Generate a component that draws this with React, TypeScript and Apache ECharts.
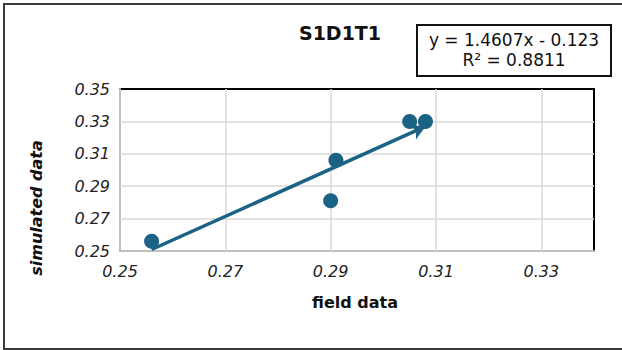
import React, { useEffect, useRef } from "react";
import * as echarts from "echarts";

// Measured points: field observations vs. simulated output
const fieldData = [0.256, 0.29, 0.291, 0.305, 0.308];
const simulatedData = [0.256, 0.281, 0.306, 0.33, 0.33];

// Linear fit reported on the chart
const slope = 1.4607;
const intercept = -0.123;
const rSquared = 0.8811;

// Axis extents and labelled tick values
const xMin = 0.25;
const xMax = 0.34;
const yMin = 0.25;
const yMax = 0.35;
const xGridTicks = [0.27, 0.29, 0.31, 0.33];
const yGridTicks = [0.27, 0.29, 0.31, 0.33];

const chartTitle = "S1D1T1";
const xName = "field data";
const yName = "simulated data";

const FONT = '"DejaVu Sans", sans-serif';
const MARK = "#1a6385";

export default function App() {
  const ref = useRef<HTMLDivElement>(null);

  useEffect(() => {
    if (!ref.current) return;
    const chart = echarts.init(ref.current, null, { renderer: "svg" });

    const points = fieldData.map((x, i) => [x, simulatedData[i]]);
    const fx0 = Math.min(...fieldData);
    const fx1 = Math.max(...fieldData);
    const fit = (x: number) => slope * x + intercept;

    const oddHundredth = (v: number, max: number) => {
      const k = Math.round(v * 100);
      return k % 2 === 1 && v <= max + 1e-9 ? v.toFixed(2) : "";
    };

    const gridLine = { color: "#d9d9d9", width: 1.5, type: "solid" as const };

    chart.setOption({
      animation: false,
      backgroundColor: "#ffffff",
      grid: {
        left: 120,
        top: 89,
        width: 474,
        height: 162,
        show: true,
        borderColor: "#000000",
        borderWidth: 2,
        backgroundColor: "transparent",
      },
      xAxis: {
        type: "value",
        min: xMin,
        max: xMax,
        interval: 0.01,
        axisLine: { show: true, onZero: false, lineStyle: { color: "#bfbfbf", width: 2 } },
        axisTick: { show: false },
        splitLine: { show: false },
        axisLabel: {
          margin: 12,
          fontFamily: FONT,
          fontStyle: "italic",
          fontSize: 16,
          color: "#222",
          formatter: (v: number) => oddHundredth(v, 0.33),
        },
      },
      yAxis: {
        type: "value",
        min: yMin,
        max: yMax,
        interval: 0.01,
        axisLine: { show: true, onZero: false, lineStyle: { color: "#bfbfbf", width: 2 } },
        axisTick: { show: false },
        splitLine: { show: false },
        axisLabel: {
          margin: 10,
          fontFamily: FONT,
          fontStyle: "italic",
          fontSize: 16,
          color: "#222",
          formatter: (v: number) => oddHundredth(v, 0.35),
        },
      },
      graphic: [
        {
          type: "rect",
          shape: { x: 4, y: 4, width: 630, height: 345 },
          style: { fill: "none", stroke: "#3a3a3a", lineWidth: 2 },
          silent: true,
        },
        {
          type: "text",
          x: 340,
          y: 33,
          style: {
            text: chartTitle,
            fontFamily: FONT,
            fontWeight: "bold",
            fontSize: 19,
            fill: "#111",
            align: "center",
            verticalAlign: "middle",
          },
        },
        {
          type: "rect",
          shape: { x: 417, y: 25, width: 194, height: 51 },
          style: { fill: "#ffffff", stroke: "#111", lineWidth: 2 },
        },
        {
          type: "text",
          x: 514,
          y: 40,
          style: {
            text: `y = ${slope}x - ${Math.abs(intercept)}`,
            fontFamily: FONT,
            fontSize: 17,
            fill: "#111",
            align: "center",
            verticalAlign: "middle",
          },
        },
        {
          type: "text",
          x: 514,
          y: 60,
          style: {
            text: `R² = ${rSquared}`,
            fontFamily: FONT,
            fontSize: 17,
            fill: "#111",
            align: "center",
            verticalAlign: "middle",
          },
        },
        {
          type: "text",
          x: 355,
          y: 302,
          style: {
            text: xName,
            fontFamily: FONT,
            fontWeight: 600,
            fontSize: 16,
            fill: "#111",
            align: "center",
            verticalAlign: "middle",
          },
        },
        {
          type: "text",
          x: 36,
          y: 208,
          rotation: Math.PI / 2,
          style: {
            text: yName,
            fontFamily: FONT,
            fontStyle: "italic",
            fontWeight: 600,
            fontSize: 16,
            fill: "#111",
            align: "center",
            verticalAlign: "middle",
          },
        },
      ],
      series: [
        {
          // light gridlines at the labelled ticks
          type: "line",
          data: [],
          silent: true,
          markLine: {
            silent: true,
            symbol: ["none", "none"],
            label: { show: false },
            lineStyle: gridLine,
            data: [
              ...xGridTicks.map((v) => ({ xAxis: v })),
              ...yGridTicks.map((v) => ({ yAxis: v })),
            ],
          },
        },
        {
          type: "scatter",
          data: points,
          symbol: "circle",
          symbolSize: 15,
          itemStyle: { color: MARK, opacity: 1 },
          z: 5,
          markLine: {
            silent: true,
            symbol: ["none", "arrow"],
            symbolSize: [12, 14],
            label: { show: false },
            lineStyle: { color: MARK, width: 3.5, type: "solid", opacity: 1 },
            data: [[{ coord: [fx0, fit(fx0)] }, { coord: [fx1, fit(fx1)] }]],
          },
        },
      ],
    });

    return () => chart.dispose();
  }, []);

  return (
    <div
      ref={ref}
      style={{ position: "absolute", left: 0, top: 0, width: 622, height: 350 }}
    />
  );
}
